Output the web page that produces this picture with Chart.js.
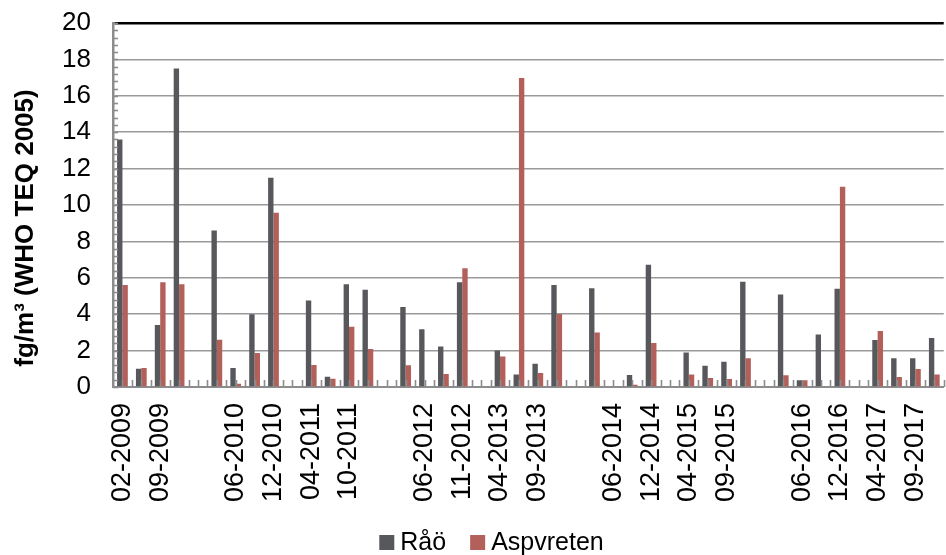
<!DOCTYPE html>
<html>
<head>
<meta charset="utf-8">
<script src="https://cdn.jsdelivr.net/npm/chart.js@4.4.1/dist/chart.umd.min.js"></script>
<style>
  html, body { margin: 0; padding: 0; background: #fff; overflow: hidden; }
  #wrap { width: 983px; height: 555px; }
</style>
</head>
<body>
<div id="wrap"><canvas id="c" width="983" height="555"></canvas></div>
<script>
// Sampling periods (only every second period carries a date label; blank slots separate the years)
const categories = [
  '02-2009', '', '09-2009', '', '', '', '06-2010', '', '12-2010', '',
  '04-2011', '', '10-2011', '', '', '', '06-2012', '', '11-2012', '',
  '04-2013', '', '09-2013', '', '', '', '06-2014', '', '12-2014', '',
  '04-2015', '', '09-2015', '', '', '', '06-2016', '', '12-2016', '',
  '04-2017', '', '09-2017', ''
];

// Dioxin concentrations, fg/m3 WHO TEQ 2005
const raoValues = [
  13.6, 1.0, 3.4, 17.5, null, 8.6, 1.05, 4.0, 11.5, null,
  4.75, 0.57, 5.65, 5.35, null, 4.4, 3.17, 2.22, 5.75, null,
  2.0, 0.68, 1.28, 5.6, null, 5.43, null, 0.66, 6.72, null,
  1.9, 1.17, 1.39, 5.78, null, 5.08, 0.37, 2.88, 5.4, null,
  2.58, 1.58, 1.58, 2.69
];
const aspvretenValues = [
  5.6, 1.05, 5.75, 5.65, null, 2.6, 0.18, 1.87, 9.58, null,
  1.21, 0.46, 3.31, 2.09, null, 1.19, null, 0.71, 6.52, null,
  1.68, 16.98, 0.77, 4.01, null, 3.0, null, 0.13, 2.42, null,
  0.68, 0.49, 0.44, 1.58, null, 0.64, 0.37, null, 11.0, null,
  3.08, 0.55, 0.99, 0.68
];

const seriesNames = ['Råö', 'Aspvreten'];
const seriesColors = ['#57585c', '#b3605a'];
const yTicks = { min: 0, max: 20, step: 2, minorStep: 0.4 };
const yTitle = 'fg/m³ (WHO TEQ 2005)';

const FONT = '"Liberation Sans", Arial, sans-serif';
const AXIS_GREY = '#8c8c8c';

// Small inward tick marks on both axes
const axisMarks = {
  id: 'axisMarks',
  afterDatasetsDraw(chart) {
    const { ctx, chartArea, scales } = chart;
    const x = scales.x, y = scales.y;
    const base = y.getPixelForValue(0);
    const half = (x.getPixelForValue(1) - x.getPixelForValue(0)) / 2;
    ctx.save();
    ctx.strokeStyle = AXIS_GREY;
    ctx.lineWidth = 1.6;
    const n = Math.round((chartArea.right - chartArea.left) / half);
    for (let i = 1; i <= n; i++) {
      const px = Math.round(chartArea.left + i * half) + 0.5;
      ctx.beginPath();
      ctx.moveTo(px, base);
      ctx.lineTo(px, base - 7);
      ctx.stroke();
    }
    for (let v = yTicks.min; v <= yTicks.max + 1e-6; v += yTicks.minorStep) {
      const py = Math.round(y.getPixelForValue(v)) + 0.5;
      ctx.beginPath();
      ctx.moveTo(chartArea.left, py);
      ctx.lineTo(chartArea.left + 5, py);
      ctx.stroke();
    }
    ctx.restore();
  }
};

// Rotated y-axis title
const yAxisTitle = {
  id: 'yAxisTitle',
  afterDraw(chart) {
    const { ctx } = chart;
    ctx.save();
    ctx.translate(26, 228);
    ctx.rotate(-Math.PI / 2);
    ctx.font = 'bold 26px ' + FONT;
    ctx.fillStyle = '#000';
    ctx.textAlign = 'center';
    ctx.textBaseline = 'middle';
    ctx.fillText(yTitle, 0, 0);
    ctx.restore();
  }
};

// Legend centred under the plot
const bottomLegend = {
  id: 'bottomLegend',
  afterDraw(chart) {
    const { ctx } = chart;
    const box = 15, gapText = 6, gapItem = 24;
    ctx.save();
    ctx.font = '25px ' + FONT;
    const items = chart.data.datasets.map(ds => ({
      label: ds.label, color: ds.backgroundColor, w: ctx.measureText(ds.label).width
    }));
    let total = 0;
    items.forEach((it, i) => { total += box + gapText + it.w + (i < items.length - 1 ? gapItem : 0); });
    let x = 491.5 - total / 2;
    const baseY = 550;
    items.forEach(it => {
      ctx.fillStyle = it.color;
      ctx.fillRect(x, baseY - box, box, box);
      x += box + gapText;
      ctx.fillStyle = '#000';
      ctx.textBaseline = 'alphabetic';
      ctx.fillText(it.label, x, baseY);
      x += it.w + gapItem;
    });
    ctx.restore();
  }
};

new Chart(document.getElementById('c'), {
  type: 'bar',
  data: {
    labels: categories,
    datasets: [
      { label: seriesNames[0], data: raoValues, backgroundColor: seriesColors[0] },
      { label: seriesNames[1], data: aspvretenValues, backgroundColor: seriesColors[1] }
    ]
  },
  options: {
    responsive: false,
    animation: false,
    devicePixelRatio: 1,
    datasets: { bar: { categoryPercentage: 0.57, barPercentage: 1.0, borderWidth: 0 } },
    layout: { padding: { top: 23, left: 0, right: 27, bottom: 50 } },
    plugins: { legend: { display: false }, tooltip: { enabled: false } },
    scales: {
      x: {
        offset: true,
        grid: { display: false, drawTicks: false },
        border: { display: true, color: AXIS_GREY, width: 2 },
        ticks: {
          autoSkip: false, minRotation: 90, maxRotation: 90, padding: 16,
          color: '#000', font: { family: FONT, size: 27 }
        },
        afterFit(scale) {
          scale.height = 118;
          scale.paddingTop = 0;
          scale.paddingBottom = 0;
        }
      },
      y: {
        min: yTicks.min, max: yTicks.max,
        grid: {
          drawTicks: false,
          color: ctx => (ctx.tick && ctx.tick.value === yTicks.max) ? '#000' : '#9a9a9a',
          lineWidth: ctx => (ctx.tick && ctx.tick.value === yTicks.max) ? 2.5 : 1.6
        },
        border: { display: true, color: AXIS_GREY, width: 2.5 },
        ticks: {
          stepSize: yTicks.step, padding: 22,
          color: '#000', font: { family: FONT, size: 26 }
        },
        afterFit(scale) {
          scale.width = 113;
          scale.paddingTop = 0;
          scale.paddingBottom = 0;
        }
      }
    }
  },
  plugins: [axisMarks, yAxisTitle, bottomLegend]
});
</script>
</body>
</html>
